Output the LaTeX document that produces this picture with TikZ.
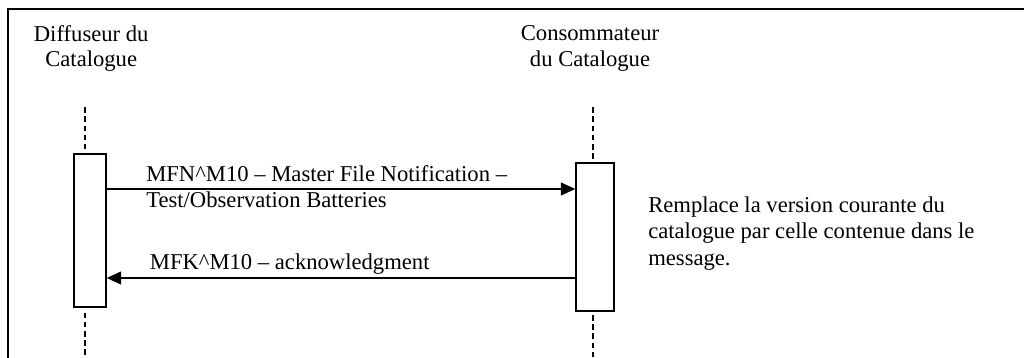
\documentclass[tikz,border=0pt]{standalone}
\usepackage{fontspec}
\setmainfont{Liberation Serif}
\usetikzlibrary{arrows.meta,positioning,calc}
\definecolor{ink}{RGB}{0,0,0}
\tikzset{
  >={Triangle[length=3.6mm,width=3.2mm]},
  actor/.style={font=\fontsize{16.1}{17.9}\selectfont,align=center,inner sep=0pt,text=ink},
  activation/.style={draw=ink,line width=1pt,fill=white,minimum width=#1,inner sep=0pt},
  activation/.default=8mm,
  lifeline/.style={draw=ink,line width=1pt,dash pattern=on 1.4mm off 0.9mm},
  msg/.style={->,draw=ink,line width=1.1pt},
  msglabel/.style={font=\fontsize{16.1}{18.6}\selectfont,align=left,inner sep=0pt,text=ink},
  frameline/.style={draw=ink,line width=1.7pt},
}
\begin{document}
\begin{tikzpicture}
  \useasboundingbox (0,0) rectangle (25.6,-8.95);
  % open frame, only top and left edges
  \draw[frameline] (25.8,-0.225) -- (0.2,-0.225) -- (0.2,-9.1);

  % the two parties
  \node[actor,anchor=north] (diff) at (2.28,-0.64) {Diffuseur du\\Catalogue};
  \node[actor,anchor=north] (cons) at (14.75,-0.64) {Consommateur\\du Catalogue};

  % activation bars
  \node[activation=8mm,minimum height=38.25mm] (lbox) at (2.25,-5.7625) {};
  \node[activation=9.5mm,minimum height=37mm] (rbox) at (14.875,-5.925) {};

  % lifelines
  \coordinate (ltop) at (2.13,-2.68);
  \coordinate (lbot) at (2.13,-8.95);
  \coordinate (rtop) at (14.82,-2.68);
  \coordinate (rbot) at (14.82,-8.95);
  \draw[lifeline,shorten >=1mm] (ltop) -- (ltop |- lbox.north);
  \draw[lifeline,shorten <=1.2mm] (lbot |- lbox.south) -- (lbot);
  \draw[lifeline,shorten >=0.5mm] (rtop) -- (rtop |- rbox.north);
  \draw[lifeline,shorten <=0.8mm] (rbot |- rbox.south) -- (rbot);

  % messages
  \coordinate (m1) at (0,-4.725);
  \coordinate (m2) at (0,-6.95);
  \draw[msg] (lbox.east |- m1) -- (rbox.west |- m1);
  \draw[msg] (rbox.west |- m2) -- (lbox.east |- m2);
  \node[msglabel,anchor=north west] (mfn) at (3.65,-4.14)
    {MFN\textasciicircum M10 -- Master File Notification --\\Test/Observation Batteries};
  \node[msglabel,anchor=base west] (mfk) at (3.74,-6.725)
    {MFK\textasciicircum M10 -- acknowledgment};

  % note beside the consumer
  \node[msglabel,anchor=north west,font=\fontsize{16.1}{18.9}\selectfont] (note) at (16.2,-4.91)
    {Remplace la version courante du\\catalogue par celle contenue dans le\\message.};
\end{tikzpicture}
\end{document}
